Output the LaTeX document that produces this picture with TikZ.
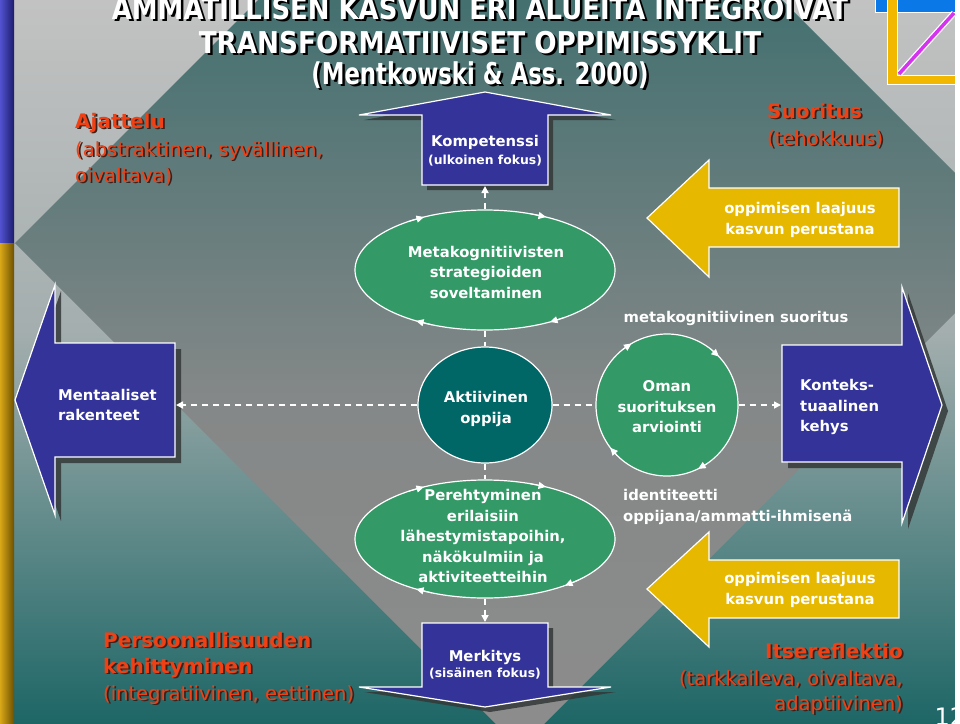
\documentclass[tikz,border=0pt]{standalone}
\usepackage{fontspec}
\usepackage{graphicx}
\setmainfont{DejaVu Sans}
\usetikzlibrary{shapes.geometric,arrows.meta}
\definecolor{bgtop}{HTML}{C2C2C2}
\definecolor{bgmid}{HTML}{A4AEAE}
\definecolor{bgbot}{HTML}{1E6666}
\definecolor{dmtop}{HTML}{447070}
\definecolor{dmmid}{HTML}{858888}
\definecolor{dmbot}{HTML}{8C8C8C}
\definecolor{navy}{HTML}{333399}
\definecolor{gold}{HTML}{E6B800}
\definecolor{leaf}{HTML}{339966}
\definecolor{deepteal}{HTML}{006666}
\definecolor{redc}{RGB}{240,64,20}
\definecolor{redshadow}{RGB}{55,35,30}
\definecolor{shadowc}{HTML}{343838}
\definecolor{logoblue}{HTML}{0A78E6}
\definecolor{logoyellow}{HTML}{F2B800}
\definecolor{logomag}{HTML}{D633F0}
\definecolor{barblueL}{HTML}{5252D0}
\definecolor{barblueR}{HTML}{1C1C6C}
\definecolor{bargoldL}{HTML}{D8A818}
\definecolor{bargoldR}{HTML}{6E5000}
\newcommand\shadowtext[6]{%
  \node[#5, anchor=#4, text=redshadow] (#1s) at (#2+1.8,#3+1.8) {#6};
  \node[#5, anchor=#4] (#1) at (#2,#3) {#6};
}
\begin{document}
\begin{tikzpicture}[x=1pt,y=-1pt,
  wtxt/.style={text=white, font=\bfseries\fontsize{14.8}{20.5}\selectfont, inner sep=0pt, align=center},
  wsub/.style={text=white, font=\bfseries\fontsize{12.4}{15}\selectfont, inner sep=0pt},
  redbold/.style={text=redc, font=\bfseries\fontsize{20}{26}\selectfont, inner sep=0pt},
  redreg/.style={text=redc, font=\fontsize{19.5}{26}\selectfont, inner sep=0pt},
  titletext/.style={font=\bfseries\fontsize{30}{32}\selectfont, inner sep=0pt, anchor=base},
  shapeline/.style={draw=white, line width=1.2pt},
  dropshadow/.style={fill=shadowc, opacity=0.85},
  dashline/.style={draw=white, line width=1.6pt, dash pattern=on 6pt off 5pt},
  arrowtip/.style={-{Triangle[length=7pt,width=7pt]}},
  cyctip/.style={draw=white, line width=1pt, -{Triangle[length=7.5pt,width=7pt]}},
  blob/.style={ellipse, shapeline, inner sep=0pt}
]
\useasboundingbox (0,0) rectangle (960,723);
\clip (0,0) rectangle (960,723);
% background
\shade[top color=bgtop, bottom color=bgmid] (0,0) rectangle (960,331);
\shade[top color=bgmid, bottom color=bgbot] (0,330) rectangle (960,723);
\begin{scope}
  \clip (15,243) -- (520,-262) -- (1025,243) -- (520,748) -- cycle;
  \shade[top color=dmtop, bottom color=dmmid] (0,0) rectangle (960,401);
  \shade[top color=dmmid, bottom color=dmbot] (0,400) rectangle (960,723);
\end{scope}
% left bar
\shade[left color=barblueL, right color=barblueR] (0,0) rectangle (14,243);
\shade[left color=bargoldL, right color=bargoldR] (0,243) rectangle (14,723);
% logo
\filldraw[fill=logoblue, draw=white, line width=0.8pt] (875,-2) rectangle (955,12);
\filldraw[fill=logoyellow, draw=white, line width=0.8pt] (887,-2) -- (897,-2) -- (897,75) -- (955,75) -- (955,84) -- (887,84) -- cycle;
\draw[white, line width=6pt] (899,74) -- (954,13);
\draw[logomag, line width=3.5pt] (899,74) -- (954,13);
% page number and right strip
\node[anchor=base west, text=white, font=\fontsize{24}{24}\selectfont, inner sep=0pt] (pagenum) at (934.5,725) {12};
\fill[white] (955,0) rectangle (960,723);
% title
\node[titletext, text=black] (t1s) at (482.5,21.5) {\scalebox{0.864}[1]{AMMATILLISEN KASVUN ERI ALUEITA INTEGROIVAT}};
\node[titletext, text=white] (t1) at (480,19) {\scalebox{0.864}[1]{AMMATILLISEN KASVUN ERI ALUEITA INTEGROIVAT}};
\node[titletext, text=black] (t2s) at (482.5,55.5) {\scalebox{0.875}[1]{TRANSFORMATIIVISET OPPIMISSYKLIT}};
\node[titletext, text=white] (t2) at (480,53) {\scalebox{0.875}[1]{TRANSFORMATIIVISET OPPIMISSYKLIT}};
\node[titletext, text=black] (t3s) at (482.5,86.5) {\scalebox{0.76}[1]{(Mentkowski \& Ass. 2000)}};
\node[titletext, text=white] (t3) at (480,84) {\scalebox{0.76}[1]{(Mentkowski \& Ass. 2000)}};
% red corner texts
\shadowtext{aj1}{75}{128}{base west}{redbold}{Ajattelu}
\shadowtext{aj2}{75}{156}{base west}{redreg}{(abstraktinen, syvällinen,}
\shadowtext{aj3}{75}{182}{base west}{redreg}{oivaltava)}
\shadowtext{su1}{767}{118}{base west}{redbold}{Suoritus}
\shadowtext{su2}{767}{145}{base west}{redreg}{(tehokkuus)}
\shadowtext{pe1}{103}{647}{base west}{redbold}{Persoonallisuuden}
\shadowtext{pe2}{103}{673}{base west}{redbold}{kehittyminen}
\shadowtext{pe3}{103}{700}{base west}{redreg}{(integratiivinen, eettinen)}
\shadowtext{it1}{903}{658}{base east}{redbold}{Itsereflektio}
\shadowtext{it2}{903}{685}{base east}{redreg}{(tarkkaileva, oivaltava,}
\shadowtext{it3}{903}{710}{base east}{redreg}{adaptiivinen)}
% Kompetenssi (up arrow)
\fill[dropshadow, shift={(5,5)}] (422,185) -- (422,115) -- (359,115) -- (485,92) -- (611,115) -- (548,115) -- (548,185) -- cycle;
\filldraw[fill=navy, shapeline] (422,185) -- (422,115) -- (359,115) -- (485,92) -- (611,115) -- (548,115) -- (548,185) -- cycle;
\coordinate (kompB) at (485,186);
% Merkitys (down arrow)
\fill[dropshadow, shift={(5,5)}] (422,623) -- (548,623) -- (548,687) -- (611,687) -- (485,707) -- (359,687) -- (422,687) -- cycle;
\filldraw[fill=navy, shapeline] (422,623) -- (548,623) -- (548,687) -- (611,687) -- (485,707) -- (359,687) -- (422,687) -- cycle;
\coordinate (merkT) at (485,622);
% Mentaaliset (left arrow)
\fill[dropshadow, shift={(6,6)}] (15,400) -- (55,285) -- (55,343) -- (175,343) -- (175,457) -- (55,457) -- (55,515) -- cycle;
\filldraw[fill=navy, shapeline] (15,400) -- (55,285) -- (55,343) -- (175,343) -- (175,457) -- (55,457) -- (55,515) -- cycle;
\coordinate (mentR) at (176,405);
% Kontekstuaalinen (right arrow)
\fill[dropshadow, shift={(6,6)}] (782,345) -- (902,345) -- (902,287) -- (942,405) -- (902,523) -- (902,462) -- (782,462) -- cycle;
\filldraw[fill=navy, shapeline] (782,345) -- (902,345) -- (902,287) -- (942,405) -- (902,523) -- (902,462) -- (782,462) -- cycle;
\coordinate (kontL) at (781,405);
% yellow arrows
\filldraw[fill=gold, shapeline] (647,218) -- (709,160) -- (709,188) -- (899,188) -- (899,247) -- (709,247) -- (709,277) -- cycle;
\filldraw[fill=gold, shapeline] (647,589) -- (709,532) -- (709,560) -- (899,560) -- (899,618) -- (709,618) -- (709,647) -- cycle;
% ellipses
\node[blob, fill=leaf, minimum width=260pt, minimum height=120pt] (meta) at (485,270) {};
\node[blob, fill=deepteal, minimum width=134pt, minimum height=116pt] (akt) at (485,405) {};
\node[circle, shapeline, fill=leaf, minimum size=142pt, inner sep=0pt] (oman) at (667,405) {};
\node[blob, fill=leaf, minimum width=260pt, minimum height=118pt] (pere) at (485,539) {};
% cycle arrowheads on outlines
\foreach \a in {60,122,242,298}
  \draw[cyctip, shift={(485,270)}] ({\a-8}:130 and 60) -- (\a:130 and 60);
\foreach \a in {64,143,240,317}
  \draw[cyctip, shift={(667,405)}] ({\a-9}:71 and 71) -- (\a:71 and 71);
\foreach \a in {52,122,242,298}
  \draw[cyctip, shift={(485,539)}] ({\a-8}:130 and 59) -- (\a:130 and 59);
% dashed connectors
\draw[dashline, arrowtip] (meta.north) -- (kompB);
\draw[dashline] (meta.south) -- (akt.north);
\draw[dashline] (akt.south) -- (pere.north);
\draw[dashline, arrowtip] (pere.south) -- (merkT);
\draw[dashline, arrowtip] (akt.west) -- (mentR);
\draw[dashline] (akt.east) -- (oman.west);
\draw[dashline, arrowtip] (oman.east) -- (kontL);
% white texts
\node[wtxt] (komptext) at (485,142) {Kompetenssi};
\node[wsub] (kompsub) at (485,161) {(ulkoinen fokus)};
\node[wtxt] (metatext) at (486,272) {Metakognitiivisten\\strategioiden\\soveltaminen};
\node[wtxt] (yel1text) at (800,220) {oppimisen laajuus\\kasvun perustana};
\node[wtxt] (mssuor) at (736,318) {metakognitiivinen suoritus};
\node[wtxt, align=left, anchor=west] (menttext) at (58,405) {Mentaaliset\\rakenteet};
\node[wtxt] (akttext) at (486,409) {Aktiivinen\\oppija};
\node[wtxt] (omantext) at (667,407) {Oman\\suorituksen\\arviointi};
\node[wtxt, align=left, anchor=west] (konttext) at (800,407) {Konteks-\\tuaalinen\\kehys};
\node[wtxt] (peretext) at (483,536) {Perehtyminen\\erilaisiin\\lähestymistapoihin,\\näkökulmiin ja\\aktiviteetteihin};
\node[wtxt, align=left, anchor=west] (idtext) at (623,507) {identiteetti\\oppijana/ammatti-ihmisenä};
\node[wtxt] (yel2text) at (800,590) {oppimisen laajuus\\kasvun perustana};
\node[wtxt] (merktext) at (485,657) {Merkitys};
\node[wsub] (merksub) at (485,674) {(sisäinen fokus)};
\end{tikzpicture}
\end{document}
